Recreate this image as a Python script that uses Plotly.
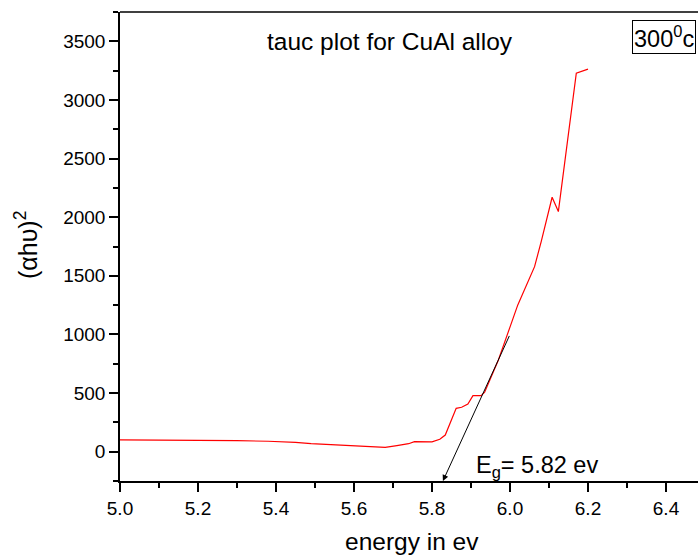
import plotly.graph_objects as go

energy = [5.00, 5.10, 5.23, 5.30, 5.38, 5.45, 5.49, 5.55, 5.59, 5.66, 5.68, 5.71, 5.74, 5.755,
          5.80, 5.82, 5.834, 5.862, 5.876, 5.892, 5.905, 5.926, 5.935, 5.97, 6.02, 6.063,
          6.08, 6.108, 6.124, 6.17, 6.20]
alpha_hv_sq = [100, 99, 97, 94, 89, 80, 68, 58, 51, 40, 37, 52, 68, 85,
               84, 106, 142, 370, 379, 407, 478, 478, 507, 780, 1252, 1578,
               1792, 2170, 2048, 3228, 3263]

fit_x = [6.0, 5.828]
fit_y = [1000, -250]

x_ticks = [5.0, 5.2, 5.4, 5.6, 5.8, 6.0, 6.2, 6.4]
y_ticks = [0, 500, 1000, 1500, 2000, 2500, 3000, 3500]

FONT = "Liberation Sans, Arial, sans-serif"

fig = go.Figure()
fig.add_trace(go.Scatter(x=energy, y=alpha_hv_sq, mode="lines",
                         line=dict(color="#ff0000", width=1.2), showlegend=False))

W, H = 698, 558
L, R, T, B = 120, 0, 12, 77

fig.update_layout(
    width=W, height=H,
    margin=dict(l=L, r=R, t=T, b=B, pad=0),
    paper_bgcolor="white", plot_bgcolor="white",
    font=dict(family=FONT, color="black", size=18.5),
    xaxis=dict(range=[5.0, 5.0 + (W - L - R) / 390.0], tickvals=x_ticks,
               ticktext=[f"{v:.1f}" for v in x_ticks],
               showline=True, linecolor="black", linewidth=1.5, mirror=False,
               ticks="outside", ticklen=9, tickwidth=1.5, tickcolor="black",
               minor=dict(dtick=0.1, tick0=5.0, ticks="outside", ticklen=5, tickwidth=1.5, tickcolor="black"),
               showgrid=False, zeroline=False, automargin=False,
               tickfont=dict(size=19, family=FONT)),
    yaxis=dict(range=[-250, 3750], tickvals=y_ticks,
               showline=True, linecolor="black", linewidth=1.5, mirror=False,
               ticks="outside", ticklen=9, tickwidth=1.5, tickcolor="black",
               minor=dict(dtick=250, tick0=0, ticks="outside", ticklen=5, tickwidth=1.5, tickcolor="black"),
               showgrid=False, zeroline=False, automargin=False,
               tickfont=dict(size=19, family=FONT)),
)

# top frame line
fig.add_shape(type="line", xref="paper", yref="paper", x0=0, x1=1, y0=1, y1=1,
              line=dict(color="black", width=1.5))

pw = W - L - R
ph = H - T - B

def px_x(p):
    return (p - L) / pw

def px_y(p):
    return (H - B - p) / ph

# tangent arrow
fig.add_annotation(x=fit_x[1], y=fit_y[1], ax=fit_x[0], ay=fit_y[0], xref="x", yref="y",
                   axref="x", ayref="y", text="", showarrow=True, arrowhead=2,
                   arrowsize=1.2, arrowwidth=1, arrowcolor="black", standoff=0)

fig.add_annotation(x=px_x(390), y=px_y(41), xref="paper", yref="paper",
                   text="tauc plot for CuAl alloy", showarrow=False,
                   xanchor="center", yanchor="middle", font=dict(size=24.5, family=FONT))

fig.add_annotation(x=px_x(632), y=px_y(20), xref="paper", yref="paper",
                   text="300<sup>0</sup>c", showarrow=False, xanchor="left", yanchor="top",
                   bordercolor="black", borderwidth=1, borderpad=1,
                   font=dict(size=23.5, family=FONT))

fig.add_annotation(x=px_x(474), y=px_y(466), xref="paper", yref="paper",
                   text="E<sub>g</sub>= 5.82 ev", showarrow=False, xanchor="left", yanchor="middle",
                   font=dict(size=23.5, family=FONT))

fig.add_annotation(x=px_x(412), y=px_y(541), xref="paper", yref="paper",
                   text="energy in ev", showarrow=False, xanchor="center", yanchor="middle",
                   font=dict(size=24.5, family=FONT))

fig.add_annotation(x=px_x(26), y=px_y(245), xref="paper", yref="paper",
                   text="(αhυ)<sup>2</sup>", showarrow=False, xanchor="center", yanchor="middle",
                   textangle=-90, font=dict(size=25, family=FONT))

fig.write_html("out.html")
